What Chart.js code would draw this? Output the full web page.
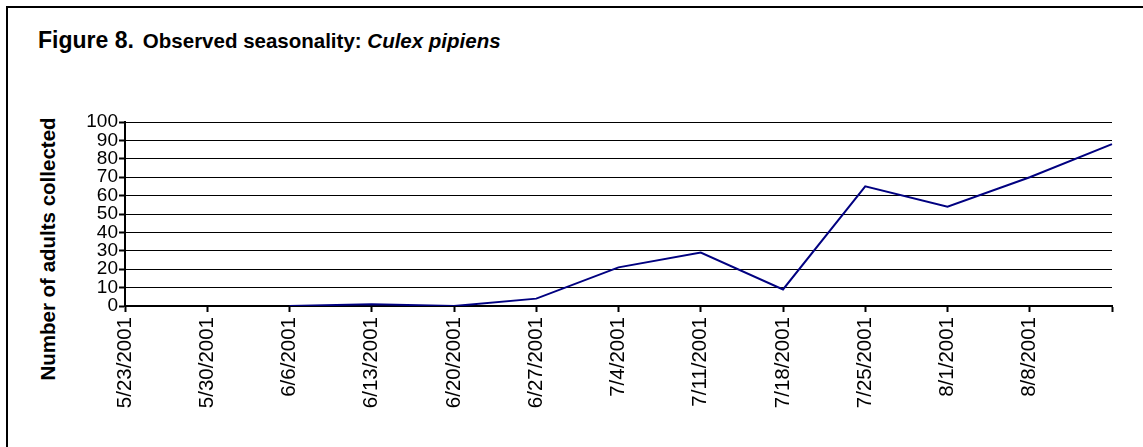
<!DOCTYPE html>
<html>
<head>
<meta charset="utf-8">
<script src="https://cdn.jsdelivr.net/npm/chart.js@4.4.0/dist/chart.umd.min.js"></script>
<style>
  html, body { margin: 0; padding: 0; background: #fff; }
  #wrap { position: relative; width: 1143px; height: 447px; overflow: hidden; font-family: Arial, "Liberation Sans", sans-serif; }
  #frame { position: absolute; left: 6px; top: 6px; width: 1200px; height: 600px; border-left: 2px solid #000; border-top: 2px solid #000; box-sizing: border-box; }
  #title { position: absolute; left: 38px; top: 27px; white-space: nowrap; color: #000; font-weight: bold; }
  #title .fig { font-size: 23px; }
  #title .sub { font-size: 20.5px; margin-left: 9px; }
  #ytitle { position: absolute; left: 48px; top: 249px; transform: translate(-50%, -50%) rotate(-90deg); white-space: nowrap; font-weight: bold; font-size: 20.5px; color: #000; }
  canvas { position: absolute; left: 0; top: 0; }
</style>
</head>
<body>
<div id="wrap">
  <div id="frame"></div>
  <div id="title"><span class="fig">Figure 8.</span><span class="sub">Observed seasonality: <i>Culex pipiens</i></span></div>
  <div id="ytitle">Number of adults collected</div>
  <canvas id="c" width="1143" height="447"></canvas>
</div>
<script>
// Weekly collection dates (last axis tick is unlabeled)
const dateLabels = ['5/23/2001','5/30/2001','6/6/2001','6/13/2001','6/20/2001','6/27/2001','7/4/2001','7/11/2001','7/18/2001','7/25/2001','8/1/2001','8/8/2001',''];
// Number of Culex pipiens adults collected
const adultCounts = [null, null, 0, 1, 0, 4, 21, 29, 9, 65, 54, 70, 88];
const yTicks = { min: 0, max: 100, step: 10 };

const canvas = document.getElementById('c');
new Chart(canvas, {
  type: 'line',
  data: {
    labels: dateLabels,
    datasets: [{
      data: adultCounts,
      borderColor: '#000080',
      borderWidth: 2,
      pointRadius: 0,
      tension: 0,
      spanGaps: false,
      fill: false
    }]
  },
  options: {
    responsive: false,
    animation: false,
    devicePixelRatio: 1,
    layout: { padding: { left: 0, top: 122, right: 31, bottom: 0 } },
    plugins: { legend: { display: false }, tooltip: { enabled: false }, title: { display: false } },
    scales: {
      x: {
        offset: false,
        grid: { drawOnChartArea: false, drawTicks: true, tickLength: 6, tickColor: '#000', tickWidth: 2 },
        border: { display: true, color: '#000', width: 2 },
        ticks: {
          autoSkip: false, minRotation: 90, maxRotation: 90, padding: 5,
          color: '#000', font: { family: 'Arial, "Liberation Sans", sans-serif', size: 20.5 }
        },
        afterFit: (s) => { s.height = 447 - 306; }
      },
      y: {
        min: yTicks.min, max: yTicks.max,
        grid: { color: '#000', lineWidth: 1, drawTicks: true, tickLength: 6, tickColor: '#000', tickWidth: 2 },
        border: { display: true, color: '#000', width: 2 },
        ticks: {
          stepSize: yTicks.step, autoSkip: false, padding: 1,
          color: '#000', font: { family: 'Arial, "Liberation Sans", sans-serif', size: 19 }
        },
        afterFit: (s) => { s.width = 125; }
      }
    }
  }
});
</script>
</body>
</html>
